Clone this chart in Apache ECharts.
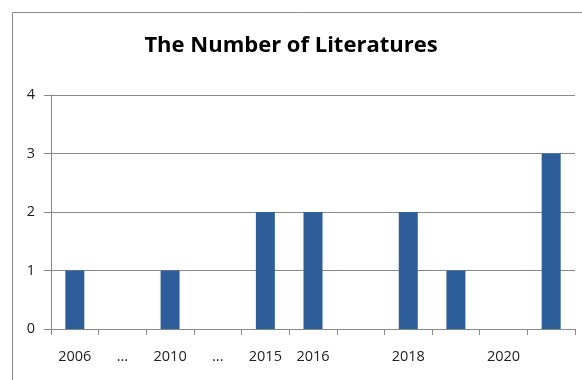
<!DOCTYPE html>
<html><head><meta charset="utf-8">
<script src="https://cdn.jsdelivr.net/npm/echarts@6/dist/echarts.min.js"></script>
<style>html,body{margin:0;padding:0;background:#fff}#c{width:582px;height:380px}</style>
</head><body><div id="c"></div>
<script>
var categories = ['2006','...','2010','...','2015','2016','','2018','','2020',''];
var values = [1,0,1,0,2,2,0,2,1,0,3];
var yTicks = [0,1,2,3,4];
var chart = echarts.init(document.getElementById('c'));
chart.setOption({
  animation:false,
  backgroundColor:'#fff',
  title:{text:'The Number of Literatures',left:'center',top:30,
    textStyle:{fontFamily:'Open Sans',fontWeight:'bold',fontSize:22,color:'#000'}},
  graphic:[{type:'polyline',shape:{points:[[12.5,400],[12.5,12.5],[600,12.5]]},style:{stroke:'#888',lineWidth:1,fill:null}}],
  grid:{left:51,right:7,top:95,bottom:51},
  xAxis:{type:'category',data:categories,
    axisLine:{lineStyle:{color:'#888'}},
    axisTick:{show:true,alignWithLabel:false,length:6,lineStyle:{color:'#888'}},
    axisLabel:{color:'#222',fontFamily:'Open Sans',fontSize:14.5,margin:20,interval:0}},
  yAxis:{type:'value',min:yTicks[0],max:yTicks[yTicks.length-1],interval:1,
    axisLine:{show:true,lineStyle:{color:'#888'}},
    axisTick:{show:true,length:7,lineStyle:{color:'#888'}},
    axisLabel:{color:'#222',fontFamily:'Open Sans',fontSize:14.5,margin:16},
    splitLine:{lineStyle:{color:'#888'}}},
  series:[{type:'bar',data:values,barWidth:19,itemStyle:{color:'#2E5E99'}}]
});
</script></body></html>
